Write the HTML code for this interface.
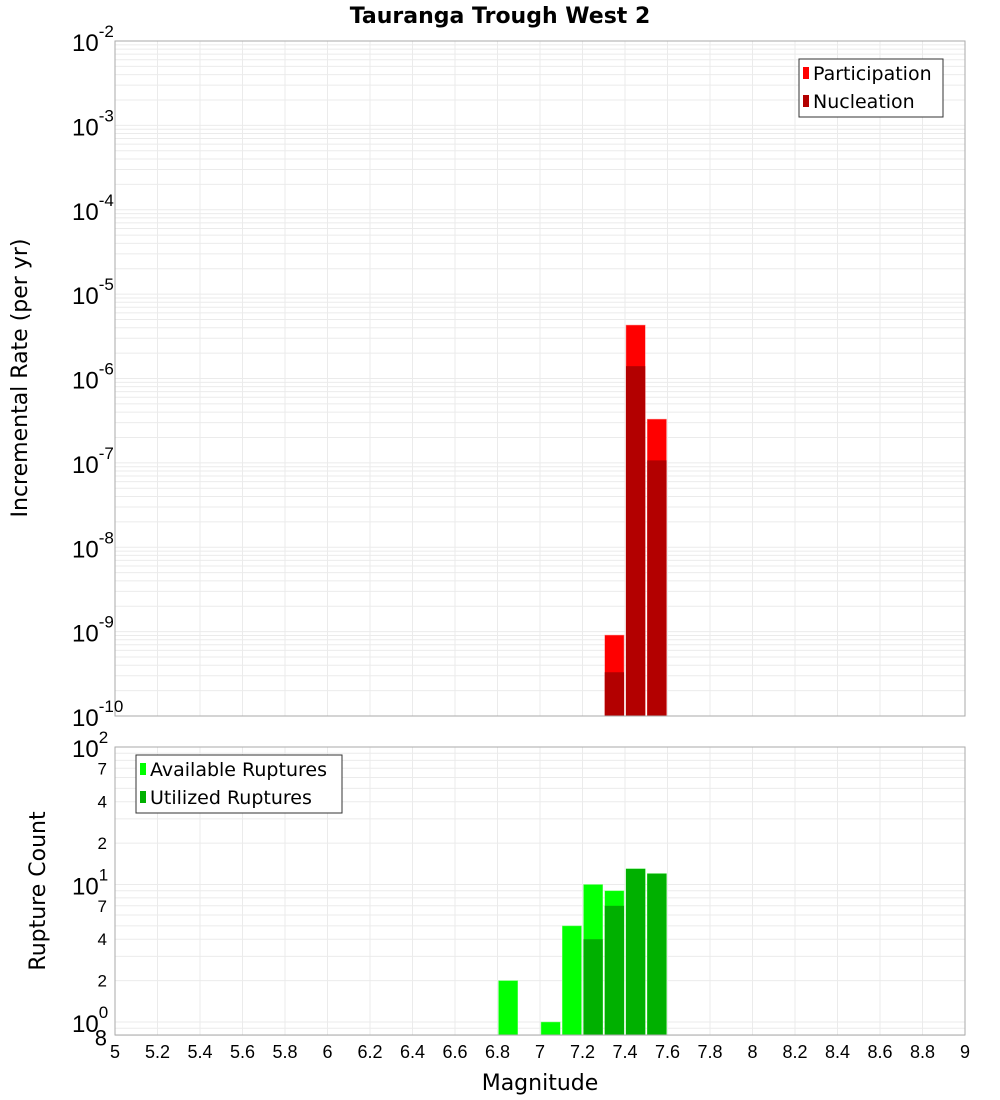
<!DOCTYPE html>
<html><head><meta charset="utf-8"><style>
body{margin:0;background:#fff;}
svg{display:block;font-family:"Liberation Sans","DejaVu Sans",sans-serif;}
</style></head><body>
<svg id="c" width="1000" height="1100" xmlns="http://www.w3.org/2000/svg">
<text x="500" y="23" text-anchor="middle" font-size="22" font-weight="bold" font-family="DejaVu Sans, sans-serif">Tauranga Trough West 2</text>
<text transform="translate(27,378) rotate(-90)" text-anchor="middle" font-size="22" font-family="DejaVu Sans, sans-serif">Incremental Rate (per yr)</text>
<text transform="translate(45,891) rotate(-90)" text-anchor="middle" font-size="22" font-family="DejaVu Sans, sans-serif">Rupture Count</text>
<text x="540" y="1090" text-anchor="middle" font-size="22" font-family="DejaVu Sans, sans-serif">Magnitude</text>
<g id="g"></g>
</svg>
<script>
const binCenters=[7.35,7.45,7.55];
const participation=[9.1e-10,4.3e-6,3.3e-7];
const nucleation=[3.3e-10,1.4e-6,1.07e-7];
const countBins=[6.85,7.05,7.15,7.25,7.35,7.45,7.55];
const available=[2,1,5,10,9,13,12];
const utilized=[0,0,0,4,7,13,12];
const xTicks=[5,5.2,5.4,5.6,5.8,6,6.2,6.4,6.6,6.8,7,7.2,7.4,7.6,7.8,8,8.2,8.4,8.6,8.8,9];
const topExps=[-2,-3,-4,-5,-6,-7,-8,-9,-10];

const NS="http://www.w3.org/2000/svg";
const g=document.getElementById('g');
function el(t,a,p){const e=document.createElementNS(NS,t);for(const k in a)e.setAttribute(k,a[k]);(p||g).appendChild(e);return e;}
const X0=115,X1=965;
const x=m=>X0+(m-5)/4*(X1-X0);
const T0=41,T1=716;
const yT=v=>T0+(-2-Math.log10(v))*(T1-T0)/8;
const B0=747,B1=1035;
const yB=v=>1022-Math.log10(v)*137.5;

// grids
function grid(top,bot,yf,lo,hi){
  for(let e=lo;e<hi;e++)for(let k=1;k<10;k++){const v=k*Math.pow(10,e);const y=yf(v);if(y<top-0.5||y>bot+0.5)continue;
    const l=el('line',{x1:X0,x2:X1,y1:y,y2:y,stroke:'#ebebeb','stroke-width':1});
    
    }
  xTicks.forEach(t=>{const l=el('line',{x1:x(t),x2:x(t),y1:top,y2:bot,stroke:'#ebebeb','stroke-width':1});
    
    });
}
grid(T0,T1,yT,-10,-2);
grid(B0,B1,yB,-1,2);

// top bars
binCenters.forEach((m,i)=>{
  const xl=x(m-0.05)+1,w=x(m+0.05)-x(m-0.05)-2;
  const p=el('rect',{x:xl,y:yT(participation[i]),width:w,height:T1-yT(participation[i]),fill:'#ff0000',stroke:'#ff8080','stroke-width':0.5});
  
  
  const n=el('rect',{x:xl,y:yT(nucleation[i]),width:w,height:T1-yT(nucleation[i]),fill:'#b30000'});
  
  
});
// bottom bars
countBins.forEach((m,i)=>{
  const xl=x(m-0.05)+1,w=x(m+0.05)-x(m-0.05)-2;
  if(available[i]>0){const a=el('rect',{x:xl,y:yB(available[i]),width:w,height:B1-yB(available[i]),fill:'#00ff00',stroke:'#80ff80','stroke-width':0.5});
  
  }
  if(utilized[i]>0){const u=el('rect',{x:xl,y:yB(utilized[i]),width:w,height:B1-yB(utilized[i]),fill:'#00b000'});
  
  }
});
// frames
const f1=el('rect',{x:X0,y:T0,width:X1-X0,height:T1-T0,fill:'none',stroke:'#aaa','stroke-width':1});


const f2=el('rect',{x:X0,y:B0,width:X1-X0,height:B1-B0,fill:'none',stroke:'#aaa','stroke-width':1});



// top y labels
topExps.forEach(e=>{const y=yT(Math.pow(10,e));
  const t=el('text',{x:72,y:y+10,'font-size':24,fill:'#000'});
  
  
  t.textContent='10';
  const s=el('tspan',{dy:-14,'font-size':17},t);s.textContent=String(e);
});
// bottom y labels
[[100,'2'],[10,'1'],[1,'0']].forEach(([v,e])=>{const y=yB(v);
  const t=el('text',{x:72,y:y+10,'font-size':24});
  
  
  t.textContent='10';
  const s=el('tspan',{dy:-14,'font-size':17},t);s.textContent=e;
});
[[70,'7'],[40,'4'],[20,'2'],[7,'7'],[4,'4'],[2,'2'],[0.8,'8']].forEach(([v,s])=>{
  const y=yB(v);
  const t=el('text',{x:107,y:y+6,'font-size':v==0.8?22:17,'text-anchor':'end'});
  if(v==0.8)t.setAttribute('y',y+10);
  
  
  t.textContent=s;
});
// x labels
xTicks.forEach(v=>{const t=el('text',{x:x(v),y:1058,'font-size':18,'text-anchor':'middle'});
  
  
  t.textContent=String(v);});

// legends
function legend(x0,y0,w,items,name){
  const lg=el('g',{});
  
  
  el('rect',{x:x0,y:y0,width:w,height:58,fill:'#fff',stroke:'#333','stroke-width':1},lg);
  items.forEach(([c,l],i)=>{const yy=y0+14+i*28;
    el('rect',{x:x0+4,y:yy-6,width:6,height:12,fill:c},lg);
    const t=el('text',{x:x0+14,y:yy+7,'font-size':19,'font-family':'DejaVu Sans, sans-serif'},lg);
    t.textContent=l;});
}
legend(799,59,144,[['#ff0000','Participation'],['#b30000','Nucleation']],'rate-legend');
legend(136,755,206,[['#00ff00','Available Ruptures'],['#00b000','Utilized Ruptures']],'count-legend');
</script>
</body></html>
